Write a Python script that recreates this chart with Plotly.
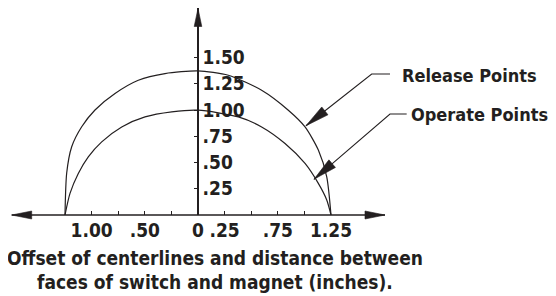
import math
import plotly.graph_objects as go

# ---------------- data ----------------
release_x = [-1.25, -1.234, -1.187, -1.093, -0.968, -0.78, -0.561, -0.31, 0.0,
             0.285, 0.598, 0.849, 1.006, 1.131, 1.21, 1.25]
release_y = [0.0, 0.40, 0.65, 0.84, 1.0, 1.157, 1.283, 1.347, 1.372,
             1.331, 1.188, 0.998, 0.839, 0.618, 0.364, 0.0]

operate_x = [-1.25, -1.203, -1.125, -1.031, -0.905, -0.717, -0.498, -0.247, 0.0,
             0.379, 0.598, 0.818, 1.006, 1.131, 1.21, 1.25]
operate_y = [0.0, 0.206, 0.396, 0.554, 0.697, 0.839, 0.934, 0.982, 0.998,
             0.934, 0.839, 0.681, 0.491, 0.301, 0.143, 0.0]

x_tick_vals = [-1.0, -0.5, 0.0, 0.25, 0.75, 1.25]
x_tick_text = ["1.00", ".50", "0", ".25", ".75", "1.25"]
x_mark_vals = [-1.0, -0.75, -0.5, -0.25, 0.25, 0.5, 0.75, 1.0]
y_tick_vals = [0.25, 0.5, 0.75, 1.0, 1.25, 1.5]
y_tick_text = [".25", ".50", ".75", "1.00", "1.25", "1.50"]

release_label = "Release Points"
operate_label = "Operate Points"
title_lines = ["Offset of centerlines and distance between",
               "faces of switch and magnet (inches)."]

# ---------------- style / layout geometry (window pixels) ----------------
WIN_W, WIN_H = 556, 296
OFF = 8                      # default page body margin
W, H = WIN_W - OFF, WIN_H - OFF
AXIS_Y_WIN = 215.0           # window px of y = 0
ORIGIN_X_WIN = 198.0         # window px of x = 0
X_SCALE = 106.4              # px per unit
Y_SCALE = 105.0
M_T = 0
PLOT_H = AXIS_Y_WIN - OFF - M_T
M_B = H - M_T - PLOT_H
PLOT_W = W
X_RANGE = [-(ORIGIN_X_WIN - OFF) / X_SCALE, (WIN_W - ORIGIN_X_WIN) / X_SCALE]
Y_RANGE = [0.0, PLOT_H / Y_SCALE]
INK = "#231f20"
FONT = "DejaVu Sans Condensed, Liberation Sans, Arial, sans-serif"
FS = 19
FONT_D = dict(family=FONT, size=FS, color=INK, weight="bold")
FONT_L = dict(family=FONT, size=18, color=INK, weight="bold")


def pxp(xw):
    return (xw - OFF) / PLOT_W


def pyp(yw):
    return (AXIS_Y_WIN - yw) / PLOT_H


fig = go.Figure()
for xs, ys in [(release_x, release_y), (operate_x, operate_y)]:
    fig.add_trace(go.Scatter(x=xs, y=ys, mode="lines", cliponaxis=False,
                             line=dict(color=INK, width=1.2, shape="spline", smoothing=0.7),
                             hoverinfo="skip", showlegend=False))

shapes = []
AX_L_WIN, AX_R_WIN = 11.7, 385.0
shapes.append(dict(type="line", xref="paper", yref="paper",
                   x0=pxp(AX_L_WIN), x1=pxp(AX_R_WIN), y0=0, y1=0,
                   line=dict(color=INK, width=1.5), layer="above"))


def tri_win(tipx, tipy, ux, uy, length=20, half=4):
    # triangle, tip at window px (tipx, tipy); (ux, uy) = window-px direction from tip to back
    n = math.hypot(ux, uy)
    ux, uy = ux / n, uy / n
    nx, ny = -uy, ux
    bx, by = tipx + ux * length, tipy + uy * length
    pts = [(tipx, tipy), (bx + nx * half, by + ny * half), (bx - nx * half, by - ny * half)]
    path = "M" + " L".join("{:.5f},{:.5f}".format(pxp(a), pyp(b)) for a, b in pts) + " Z"
    return dict(type="path", xref="paper", yref="paper", path=path, fillcolor=INK,
                line=dict(color=INK, width=0.6), layer="above")


shapes.append(tri_win(AX_L_WIN, AXIS_Y_WIN, 1, 0, 20, 4))
shapes.append(tri_win(AX_R_WIN, AXIS_Y_WIN, -1, 0, 20, 4))
shapes.append(tri_win(ORIGIN_X_WIN, OFF + 0.5, 0, 1, 18, 3.8))

# leader lines: tip on curve (data), bend and end offsets in window px (x right, y down)
leaders = [
    (1.015, 0.85, (65.7, -51.7), (84.0, -51.7)),
    (1.09, 0.34, (76.0, -65.3), (92.7, -65.3)),
]
for tx, ty, bend, end in leaders:
    tipx = ORIGIN_X_WIN + tx * X_SCALE
    tipy = AXIS_Y_WIN - ty * Y_SCALE
    pts = [(tipx, tipy), (tipx + bend[0], tipy + bend[1]), (tipx + end[0], tipy + end[1])]
    shapes.append(dict(type="path", xref="paper", yref="paper",
                       path="M" + " L".join("{:.5f},{:.5f}".format(pxp(a), pyp(b)) for a, b in pts),
                       line=dict(color=INK, width=1.1), layer="above"))
    shapes.append(tri_win(tipx, tipy, bend[0], bend[1], 24, 5))

annotations = [
    dict(x=pxp(400), y=pyp(75), xref="paper", yref="paper", text=release_label,
         showarrow=False, xanchor="left", yanchor="middle", font=FONT_L),
    dict(x=pxp(550), y=pyp(114), xref="paper", yref="paper", text=operate_label,
         showarrow=False, xanchor="right", yanchor="middle", font=FONT_L),
]
for i, line in enumerate(title_lines):
    annotations.append(dict(x=pxp(215), y=pyp(258 + 23.5 * i), xref="paper", yref="paper",
                            text=line, showarrow=False, xanchor="center", yanchor="middle",
                            font=FONT_D))

fig.update_layout(
    width=W, height=H, margin=dict(l=0, r=0, t=M_T, b=M_B, autoexpand=False),
    paper_bgcolor="white", plot_bgcolor="white",
    shapes=shapes, annotations=annotations,
    xaxis=dict(range=X_RANGE, showgrid=False, zeroline=False, showline=False,
               automargin=False,
               tickmode="array", tickvals=x_tick_vals, ticktext=x_tick_text,
               ticks="", ticklabelstandoff=2, tickfont=FONT_D,
               minor=dict(tickmode="array", tickvals=x_mark_vals, ticks="inside",
                          ticklen=4, tickcolor=INK, tickwidth=1.2, showgrid=False)),
    yaxis=dict(range=Y_RANGE, showgrid=False, zeroline=False, showline=True,
               linecolor=INK, linewidth=1.5, automargin=False,
               anchor="free", position=pxp(ORIGIN_X_WIN), side="right",
               tickmode="array", tickvals=y_tick_vals, ticktext=y_tick_text,
               ticks="inside", ticklen=3, tickcolor=INK, tickwidth=1.2,
               ticklabelstandoff=0, tickfont=FONT_D),
)

fig.write_html("out.html")
